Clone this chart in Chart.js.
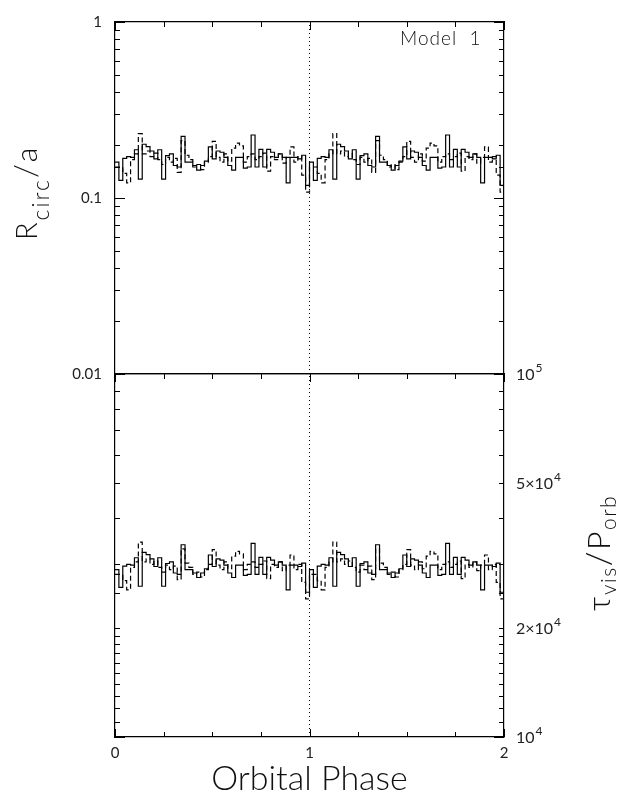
<!DOCTYPE html>
<html>
<head>
<meta charset="utf-8">
<script src="https://cdn.jsdelivr.net/npm/chart.js@4.4.1/dist/chart.umd.min.js"></script>
<style>
  html, body { margin: 0; padding: 0; background: #fff; }
  #wrap { position: relative; width: 635px; height: 796px; }
  #wrap canvas { position: absolute; left: 0; top: 0; }
</style>
</head>
<body>
<div id="wrap">
  <canvas id="topChart" width="635" height="796"></canvas>
  <canvas id="bottomChart" width="635" height="796"></canvas>
</div>
<script>
// 50 phase bins, plotted over two orbital cycles
const PHASE_BINS = 50;

const rcircSolid = [
  0.160, 0.126, 0.168, 0.172, 0.170, 0.188, 0.128, 0.202, 0.196, 0.185,
  0.167, 0.188, 0.128, 0.174, 0.178, 0.153, 0.150, 0.224, 0.160, 0.160,
  0.153, 0.144, 0.153, 0.162, 0.195, 0.167, 0.185, 0.182, 0.170, 0.153,
  0.144, 0.170, 0.170, 0.148, 0.150, 0.228, 0.150, 0.189, 0.150, 0.189,
  0.182, 0.170, 0.178, 0.170, 0.122, 0.170, 0.170, 0.167, 0.175, 0.118
];
const rcircDashed = [
  0.150, 0.150, 0.138, 0.122, 0.165, 0.178, 0.232, 0.178, 0.185, 0.172,
  0.180, 0.165, 0.155, 0.170, 0.160, 0.168, 0.140, 0.212, 0.175, 0.165,
  0.150, 0.155, 0.145, 0.160, 0.172, 0.210, 0.170, 0.160, 0.178, 0.162,
  0.192, 0.205, 0.198, 0.160, 0.172, 0.178, 0.165, 0.172, 0.180, 0.142,
  0.172, 0.165, 0.178, 0.158, 0.170, 0.195, 0.160, 0.172, 0.135, 0.108
];
const tauSolid = [
  28900, 25830, 29570, 29900, 29740, 31170, 26020, 32250, 31790, 30940,
  29490, 31170, 26020, 30060, 30380, 28300, 28040, 33850, 28900, 28900,
  28300, 27500, 28300, 29070, 31720, 29490, 30940, 30700, 29740, 28300,
  27500, 29740, 29740, 27860, 28040, 34130, 28040, 31250, 28040, 31250,
  30700, 29740, 30380, 29740, 25440, 29740, 29740, 29490, 30140, 25050
];
const tauDashed = [
  28040, 28040, 26960, 25440, 29320, 30380, 34410, 30380, 30940, 29900,
  30540, 29320, 28470, 29740, 28900, 29570, 27140, 32990, 30140, 29320,
  28040, 28470, 27590, 28900, 29900, 32840, 29740, 28900, 30380, 29070,
  31490, 32470, 31940, 28900, 29900, 30380, 29320, 29900, 30540, 27320,
  29900, 29320, 30380, 28730, 29740, 31720, 28900, 29900, 26680, 24020
];

const phaseLabels = [0, 1, 2];
const rcircTickValues = [0.01, 0.1, 1];
const rcircTickText = ['0.01', '0.1', '1'];
const tauTickValues = [1e4, 2e4, 5e4, 1e5];
const tauTickMantissa = ['', '2×', '5×', ''];
const tauTickExponent = ['4', '4', '4', '5'];

const FONT = 'Lato, "Liberation Sans", sans-serif';

function histogram(values) {
  const pts = [];
  for (let cycle = 0; cycle < 2; cycle++) {
    values.forEach((v, i) => pts.push({ x: cycle + i / PHASE_BINS, y: v }));
  }
  pts.push({ x: 2, y: values[values.length - 1] });
  return pts;
}

function pickLabel(value, values, texts) {
  const i = values.findIndex(t => Math.abs(Math.log10(t) - Math.log10(value)) < 1e-6);
  return i < 0 ? '' : texts[i];
}

// tick marks drawn inside the frame, longer at decades / whole phases
const inwardTicks = {
  id: 'inwardTicks',
  afterDatasetsDraw(chart, args, opts) {
    const { ctx, chartArea: a } = chart;
    ctx.save();
    ctx.strokeStyle = '#000';
    ctx.lineWidth = 1;
    opts.edges.forEach(([id, side]) => {
      const scale = chart.scales[id];
      const log = scale.type === 'logarithmic';
      scale.ticks.forEach(t => {
        const v = log ? Math.log10(t.value) : t.value;
        const major = Math.abs(v - Math.round(v)) < 1e-6;
        const len = log ? (major ? 10 : 5) : (major ? 8 : 5);
        const p = Math.round(scale.getPixelForValue(t.value)) + 0.5;
        ctx.beginPath();
        if (side === 'left') { ctx.moveTo(a.left, p); ctx.lineTo(a.left + len, p); }
        if (side === 'right') { ctx.moveTo(a.right, p); ctx.lineTo(a.right - len, p); }
        if (side === 'top') { ctx.moveTo(p, a.top); ctx.lineTo(p, a.top + len); }
        if (side === 'bottom') { ctx.moveTo(p, a.bottom); ctx.lineTo(p, a.bottom - len); }
        ctx.stroke();
      });
    });
    ctx.restore();
  }
};

// right-hand power-of-ten labels, placed by the log scale
const expLabels = {
  id: 'expLabels',
  afterDraw(chart, args, opts) {
    const scale = chart.scales[opts.axis];
    const ctx = chart.ctx;
    ctx.save();
    ctx.fillStyle = '#222';
    ctx.textBaseline = 'middle';
    ctx.textAlign = 'left';
    opts.values.forEach((v, i) => {
      const y = scale.getPixelForValue(v);
      let x = chart.chartArea.right + 12;
      const base = opts.mantissa[i] + '10';
      ctx.font = `400 16px ${FONT}`;
      ctx.fillText(base, x, y + 1);
      x += ctx.measureText(base).width + 1;
      ctx.font = `400 12px ${FONT}`;
      ctx.fillText(opts.exponent[i], x, y - 6);
    });
    ctx.restore();
  }
};

// text with subscripts (axis titles, panel note)
const richText = {
  id: 'richText',
  afterDraw(chart, args, opts) {
    const ctx = chart.ctx;
    opts.items.forEach(item => {
      ctx.save();
      ctx.translate(item.x, item.y);
      ctx.rotate(item.rotate || 0);
      ctx.fillStyle = '#111';
      ctx.textBaseline = 'alphabetic';
      ctx.textAlign = 'left';
      ctx.letterSpacing = (item.spacing || 0) + 'px';
      let cx = 0;
      item.parts.forEach(([text, size, shift]) => {
        ctx.font = `300 ${size}px ${FONT}`;
        ctx.fillText(text, cx, shift);
        cx += ctx.measureText(text).width;
      });
      ctx.restore();
    });
  }
};

const tickFont = { family: FONT, size: 15, weight: 400 };
const frame = { color: '#000', width: 1.2 };
const noGrid = { display: false, drawTicks: false };

function lineSets(solid, dashed, lo, hi) {
  return [
    { data: histogram(solid), stepped: true, borderColor: '#000', borderWidth: 1.2, pointRadius: 0 },
    { data: histogram(dashed), stepped: true, borderColor: '#000', borderWidth: 1.2, borderDash: [5, 3], pointRadius: 0 },
    { data: [{ x: 1, y: lo }, { x: 1, y: hi }], borderColor: '#000', borderWidth: 1, borderDash: [1, 3], pointRadius: 0 }
  ];
}

function phaseAxis(position, height, labels) {
  return {
    type: 'linear', position, min: 0, max: 2,
    ticks: {
      display: labels, stepSize: 0.25, autoSkip: false, maxRotation: 0, padding: 7,
      color: '#222', font: tickFont,
      callback: v => phaseLabels.includes(v) ? String(v) : ''
    },
    grid: noGrid, border: frame,
    afterFit: s => { s.height = height; }
  };
}

function logAxis(position, min, max, width, values, texts) {
  return {
    type: 'logarithmic', position, min, max,
    ticks: {
      display: !!values, autoSkip: false, padding: 13,
      color: '#222', font: tickFont,
      callback: v => values ? pickLabel(v, values, texts) : ''
    },
    grid: noGrid, border: frame,
    afterFit: s => { s.width = width; }
  };
}

const common = {
  responsive: false,
  animation: false,
  layout: { padding: 0 },
  events: []
};

new Chart(document.getElementById('topChart'), {
  type: 'line',
  data: { datasets: lineSets(rcircSolid, rcircDashed, 0.01, 1) },
  options: {
    ...common,
    plugins: {
      legend: { display: false },
      tooltip: { enabled: false },
      inwardTicks: { edges: [['y', 'left'], ['yRight', 'right'], ['xTop', 'top']] },
      richText: {
        items: [
          { x: 37, y: 240, rotate: -Math.PI / 2, spacing: 2,
            parts: [['R', 29, 0], ['circ', 23, 12], ['/', 32, 0], ['a', 30, 0]] },
          { x: 400, y: 45, spacing: 1, parts: [['Model  1', 19, 0]] }
        ]
      }
    },
    scales: {
      x: phaseAxis('bottom', 422, false),
      xTop: phaseAxis('top', 12, false),
      y: logAxis('left', 0.01, 1, 115, rcircTickValues, rcircTickText),
      yRight: logAxis('right', 0.01, 1, 131, null, null)
    }
  },
  plugins: [inwardTicks, richText]
});

new Chart(document.getElementById('bottomChart'), {
  type: 'line',
  data: { datasets: lineSets(tauSolid, tauDashed, 1e4, 1e5) },
  options: {
    ...common,
    plugins: {
      legend: { display: false },
      tooltip: { enabled: false },
      inwardTicks: { edges: [['y', 'left'], ['yRight', 'right'], ['xTop', 'top'], ['x', 'bottom']] },
      expLabels: { axis: 'yRight', values: tauTickValues, mantissa: tauTickMantissa, exponent: tauTickExponent },
      richText: {
        items: [
          { x: 610, y: 611, rotate: -Math.PI / 2, spacing: 1.5,
            parts: [['τ', 32, 0], ['vis', 21, 6], ['/', 34, 0], ['P', 32, 0], ['orb', 21, 6]] }
        ]
      }
    },
    scales: {
      x: {
        ...phaseAxis('bottom', 59, true),
        title: { display: true, text: 'Orbital Phase', color: '#111',
                 font: { family: FONT, size: 34, weight: 300, lineHeight: 1 }, padding: 0 }
      },
      xTop: phaseAxis('top', 374, false),
      y: logAxis('left', 1e4, 1e5, 115, null, null),
      yRight: logAxis('right', 1e4, 1e5, 131, null, null)
    }
  },
  plugins: [inwardTicks, expLabels, richText]
});
</script>
</body>
</html>
